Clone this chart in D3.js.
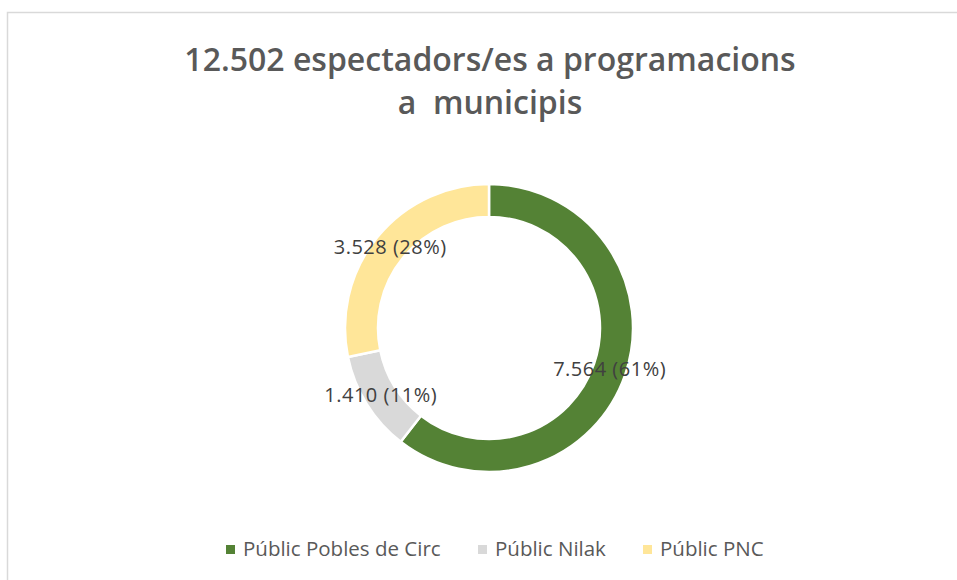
<!DOCTYPE html>
<meta charset="utf-8">
<style>
body { margin: 0; background: #fff; }
svg { display: block; }
.title { font-family: 'Open Sans', sans-serif; font-weight: 600; fill: #595959; }
.lbl { font-family: 'Open Sans', sans-serif; fill: #404040; }
.legend text { font-family: 'Open Sans', sans-serif; fill: #595959; }
</style>
<svg id="chart" width="957" height="580"></svg>
<script src="https://d3js.org/d3.v7.min.js"></script>
<script>
// data
var categories = ["Públic Pobles de Circ", "Públic Nilak", "Públic PNC"];
var values = [7564, 1410, 3528];
var colors = ["#548235", "#d9d9d9", "#ffe699"];
var titleLines = ["12.502 espectadors/es a programacions", "a  municipis"];

var svg = d3.select("#chart"),
    width = +svg.attr("width"),
    height = +svg.attr("height");

// chart border (cut off at right/bottom like the source)
svg.append("rect")
    .attr("x", 7.5).attr("y", 12.5)
    .attr("width", 980).attr("height", 600)
    .attr("fill", "#fff")
    .attr("stroke", "#d9d9d9")
    .attr("stroke-width", 1.5);

var title = svg.append("text")
    .attr("class", "title")
    .attr("text-anchor", "middle")
    .style("font-size", "32px");
title.selectAll("tspan")
    .data(titleLines)
    .enter().append("tspan")
    .attr("x", 490)
    .attr("y", function(d, i) { return 71 + i * 43; })
    .attr("xml:space", "preserve")
    .text(function(d) { return d; });

var cx = 489, cy = 328, outerR = 144, innerR = 111;
var total = d3.sum(values);
var fmt = d3.formatLocale({ decimal: ",", thousands: ".", grouping: [3] }).format(",");

var pie = d3.pie().sort(null).value(function(d) { return d; });
var arcs = pie(values);
var arc = d3.arc().innerRadius(innerR).outerRadius(outerR);

var g = svg.append("g").attr("transform", "translate(" + cx + "," + cy + ")");

g.selectAll("path")
    .data(arcs)
    .enter().append("path")
    .attr("d", arc)
    .attr("fill", function(d, i) { return colors[i]; })
    .attr("stroke", "#fff")
    .attr("stroke-width", 2.5);

g.selectAll("text.lbl")
    .data(arcs)
    .enter().append("text")
    .attr("class", "lbl")
    .attr("text-anchor", "middle")
    .attr("dy", "0.35em")
    .style("font-size", "20px")
    .style("letter-spacing", "0.5px")
    .attr("transform", function(d) { return "translate(" + arc.centroid(d) + ")"; })
    .text(function(d) { return fmt(d.value) + " (" + Math.round(d.value / total * 100) + "%)"; });

// legend
var legendX = [226, 478, 643];
var legend = svg.append("g").attr("class", "legend")
  .selectAll("g")
    .data(categories)
    .enter().append("g")
    .attr("transform", function(d, i) { return "translate(" + legendX[i] + ",549)"; });

legend.append("rect")
    .attr("x", 0).attr("y", -4)
    .attr("width", 9).attr("height", 9)
    .attr("fill", function(d, i) { return colors[i]; });

legend.append("text")
    .attr("x", 17)
    .attr("dy", "0.35em")
    .style("font-size", "20.5px")
    .text(function(d) { return d; });
</script>
